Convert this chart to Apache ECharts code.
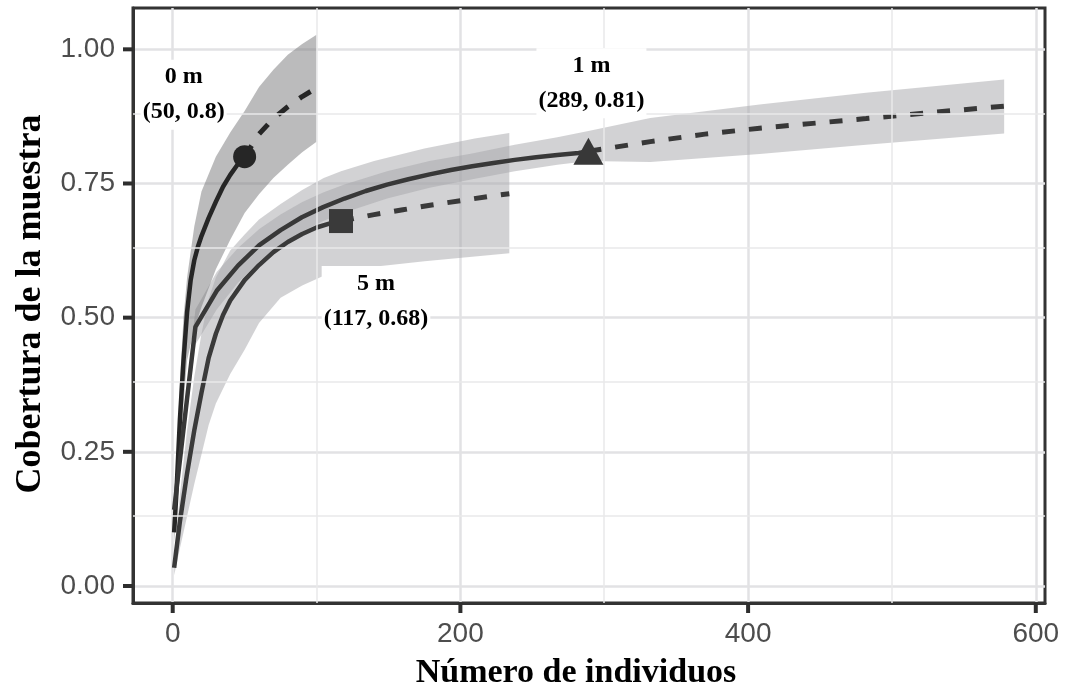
<!DOCTYPE html>
<html>
<head>
<meta charset="utf-8">
<script src="https://cdn.jsdelivr.net/npm/echarts@6/dist/echarts.min.js"></script>
<style>
  html, body { margin: 0; padding: 0; background: #fff; }
  #chart { width: 1065px; height: 693px; }
</style>
</head>
<body>
<div id="chart"></div>
<script>
// Axis ticks
const xTicks = [0, 200, 400, 600];
const xMinorTicks = [100, 300, 500];
const yTicks = [0, 0.25, 0.5, 0.75, 1];
const yMinorTicks = [0.125, 0.375, 0.625, 0.875];

// 0 m: interpolated (solid) and extrapolated (dashed) sample coverage
const m0Size = [1, 2.5, 5, 7.5, 10, 12.5, 15, 17.5, 20, 25, 30, 35, 40, 45, 50];
const m0Cov  = [0.10, 0.17, 0.31, 0.42, 0.51, 0.57, 0.607, 0.632, 0.652, 0.686, 0.716, 0.744, 0.766, 0.785, 0.80];
const m0ExtSize = [50, 60, 70, 80, 90, 100];
const m0ExtCov  = [0.80, 0.842, 0.871, 0.893, 0.912, 0.928];
const m0BandSize = [1, 2.5, 5, 7.5, 10, 15, 20, 30, 40, 50, 60, 70, 80, 90, 100];
const m0BandLow  = [0.08, 0.13, 0.24, 0.34, 0.42, 0.48, 0.52, 0.59, 0.645, 0.695, 0.73, 0.76, 0.785, 0.808, 0.828];
const m0BandHigh = [0.12, 0.21, 0.38, 0.50, 0.575, 0.67, 0.735, 0.80, 0.845, 0.885, 0.93, 0.962, 0.99, 1.01, 1.027];

// 1 m
const m1Size = [1, 15.8, 30.6, 45.4, 60.2, 75, 89.8, 104.6, 119.4, 134.2, 149, 163.8, 178.6, 193.4, 208.2, 223, 237.8, 252.6, 267.4, 282.2, 289];
const m1Cov  = [0.142, 0.483, 0.55, 0.597, 0.635, 0.663, 0.687, 0.706, 0.722, 0.736, 0.748, 0.758, 0.767, 0.775, 0.782, 0.788, 0.794, 0.799, 0.803, 0.807, 0.81];
const m1ExtSize = [289, 332, 370, 408, 445, 482, 530, 578];
const m1ExtCov  = [0.81, 0.828, 0.842, 0.853, 0.862, 0.871, 0.883, 0.894];
const m1BandSize = [1, 15.8, 30.6, 45.4, 60.2, 75, 89.8, 104.6, 119.4, 149, 178.6, 208.2, 237.8, 267.4, 289, 332, 408, 482, 578];
const m1BandLow  = [0.125, 0.45, 0.515, 0.565, 0.605, 0.635, 0.66, 0.68, 0.696, 0.722, 0.742, 0.758, 0.773, 0.785, 0.792, 0.79, 0.805, 0.822, 0.843];
const m1BandHigh = [0.16, 0.515, 0.585, 0.63, 0.665, 0.692, 0.715, 0.733, 0.748, 0.773, 0.792, 0.806, 0.822, 0.836, 0.848, 0.872, 0.897, 0.919, 0.944];

// 5 m
const m5Size = [1, 5, 10, 15, 20, 25, 30, 35, 40, 50, 60, 70, 80, 90, 100, 110, 117];
const m5Cov  = [0.034, 0.12, 0.21, 0.29, 0.36, 0.425, 0.47, 0.505, 0.532, 0.57, 0.598, 0.622, 0.641, 0.656, 0.668, 0.676, 0.68];
const m5ExtSize = [117, 140, 160, 180, 200, 220, 234];
const m5ExtCov  = [0.68, 0.692, 0.701, 0.710, 0.718, 0.726, 0.731];
const m5BandSize = [1, 5, 10, 15, 20, 25, 30, 40, 50, 60, 75, 90, 105, 117, 140, 175, 210, 234];
const m5BandLow  = [0.02, 0.07, 0.13, 0.19, 0.245, 0.30, 0.34, 0.395, 0.44, 0.49, 0.537, 0.56, 0.578, 0.585, 0.595, 0.605, 0.614, 0.62];
const m5BandHigh = [0.05, 0.17, 0.29, 0.39, 0.47, 0.535, 0.575, 0.625, 0.655, 0.683, 0.712, 0.738, 0.76, 0.773, 0.792, 0.815, 0.834, 0.844];

// Observed samples (size, coverage) per assemblage
const obsNames = ['0 m', '1 m', '5 m'];
const obsSize  = [50, 289, 117];
const obsCov   = [0.8, 0.81, 0.68];

const X_MIN = -27.6, X_MAX = 606.4, Y_MIN = -0.0317, Y_MAX = 1.077;
const TICK_LEN = 10;

const zip = (xs, ys) => xs.map((x, i) => [x, ys[i]]);

function ribbon(xs, lo, hi, fill) {
  return {
    type: 'custom',
    coordinateSystem: 'cartesian2d',
    silent: true,
    z: 1,
    data: [[xs[0], lo[0]]],
    renderItem: function (params, api) {
      const pts = [];
      for (let i = 0; i < xs.length; i++) pts.push(api.coord([xs[i], hi[i]]));
      for (let i = xs.length - 1; i >= 0; i--) pts.push(api.coord([xs[i], lo[i]]));
      return { type: 'polygon', shape: { points: pts }, style: { fill: fill } };
    }
  };
}

function curve(xs, ys, color, dashed) {
  return {
    type: 'line',
    data: zip(xs, ys),
    showSymbol: false,
    silent: true,
    z: 3,
    lineStyle: { color: color, width: dashed ? 5 : 4.5, type: dashed ? [13, 14] : 'solid' }
  };
}

// Minor grid lines (between the labelled ticks)
const minorGrid = {
  type: 'line',
  data: [],
  silent: true,
  z: 0,
  markLine: {
    silent: true,
    symbol: 'none',
    label: { show: false },
    lineStyle: { color: '#e8e8ea', width: 1.5, type: 'solid' },
    data: xMinorTicks.map(v => ({ xAxis: v })).concat(yMinorTicks.map(v => ({ yAxis: v })))
  }
};

const lineColors = ['#262626', '#383838', '#3a3a3a'];
const symbols = ['circle', 'triangle', 'rect'];
const symbolSizes = [23, [30, 27], 24];
const labelOffsets = [[-61, -62], [3, -68], [35, 80]];

const labelFont = { fontFamily: 'Liberation Serif', fontWeight: 'bold', fontSize: 24, color: '#000', lineHeight: 35, align: 'center' };

const obsSeries = {
  type: 'scatter',
  z: 5,
  silent: true,
  data: obsNames.map((n, i) => ({
    name: n,
    value: [obsSize[i], obsCov[i]],
    symbol: symbols[i],
    symbolSize: symbolSizes[i],
    itemStyle: { color: lineColors[i], opacity: 1 },
    label: { offset: labelOffsets[i] }
  })),
  label: {
    show: true,
    position: 'inside',
    backgroundColor: '#ffffff',
    padding: [0, 2],
    formatter: p => `{n|${p.name}}\n{v|(${p.value[0]}, ${p.value[1]})}`,
    rich: { n: labelFont, v: labelFont }
  }
};

const gridLine = { color: '#e2e2e4', width: 2.5 };
const tickLabel = { fontFamily: 'Liberation Sans', fontSize: 28, color: '#4d4d4d' };

const titles = [
  {
    type: 'text', x: 576, y: 673, silent: true,
    style: { text: 'Número de individuos', font: 'bold 34px "Liberation Serif"', fill: '#000', align: 'center', verticalAlign: 'middle' }
  },
  {
    type: 'text', x: 31, y: 304, rotation: Math.PI / 2, silent: true,
    style: { text: 'Cobertura de la muestra', font: 'bold 36px "Liberation Serif"', fill: '#000', align: 'center', verticalAlign: 'middle' }
  }
];

const chart = echarts.init(document.getElementById('chart'), null, { renderer: 'canvas' });
chart.setOption({
  animation: false,
  backgroundColor: '#ffffff',
  grid: { left: 133, right: 20, top: 8, bottom: 90, show: true, borderColor: '#333333', borderWidth: 3, backgroundColor: 'transparent' },
  xAxis: {
    type: 'value', min: X_MIN, max: X_MAX,
    axisLine: { show: true, onZero: false, lineStyle: { color: '#333333', width: 3 } },
    axisTick: { show: false, customValues: xTicks },
    axisLabel: Object.assign({ customValues: xTicks, margin: 17 }, tickLabel),
    splitLine: { show: true, lineStyle: gridLine }
  },
  yAxis: {
    type: 'value', min: Y_MIN, max: Y_MAX,
    axisLine: { show: true, onZero: false, lineStyle: { color: '#333333', width: 3 } },
    axisTick: { show: false, customValues: yTicks },
    axisLabel: Object.assign({ customValues: yTicks, margin: 18, formatter: v => v.toFixed(2) }, tickLabel),
    splitLine: { show: true, lineStyle: gridLine }
  },
  graphic: titles,
  series: [
    minorGrid,
    ribbon(m5BandSize, m5BandLow, m5BandHigh, 'rgba(165,165,170,0.5)'),
    ribbon(m1BandSize, m1BandLow, m1BandHigh, 'rgba(165,165,170,0.5)'),
    ribbon(m0BandSize, m0BandLow, m0BandHigh, 'rgba(120,120,122,0.5)'),
    curve(m0Size, m0Cov, lineColors[0], false),
    curve(m1Size, m1Cov, lineColors[1], false),
    curve(m5Size, m5Cov, lineColors[2], false),
    curve(m0ExtSize, m0ExtCov, lineColors[0], true),
    curve(m1ExtSize, m1ExtCov, lineColors[1], true),
    curve(m5ExtSize, m5ExtCov, lineColors[2], true),
    obsSeries
  ]
});

// Outward tick marks on the panel's bottom and left edges, placed through the axes' own scales
const tickStyle = { stroke: '#2e2e2e', lineWidth: 4 };
const tickLines = [];
xTicks.forEach(v => {
  const p = chart.convertToPixel({ gridIndex: 0 }, [v, Y_MIN]);
  tickLines.push({ type: 'line', silent: true, z: 100, shape: { x1: p[0], y1: p[1], x2: p[0], y2: p[1] + TICK_LEN }, style: tickStyle });
});
yTicks.forEach(v => {
  const p = chart.convertToPixel({ gridIndex: 0 }, [X_MIN, v]);
  tickLines.push({ type: 'line', silent: true, z: 100, shape: { x1: p[0], y1: p[1], x2: p[0] - TICK_LEN, y2: p[1] }, style: tickStyle });
});
chart.setOption({ graphic: titles.concat(tickLines) }, { replaceMerge: ['graphic'] });
</script>
</body>
</html>
